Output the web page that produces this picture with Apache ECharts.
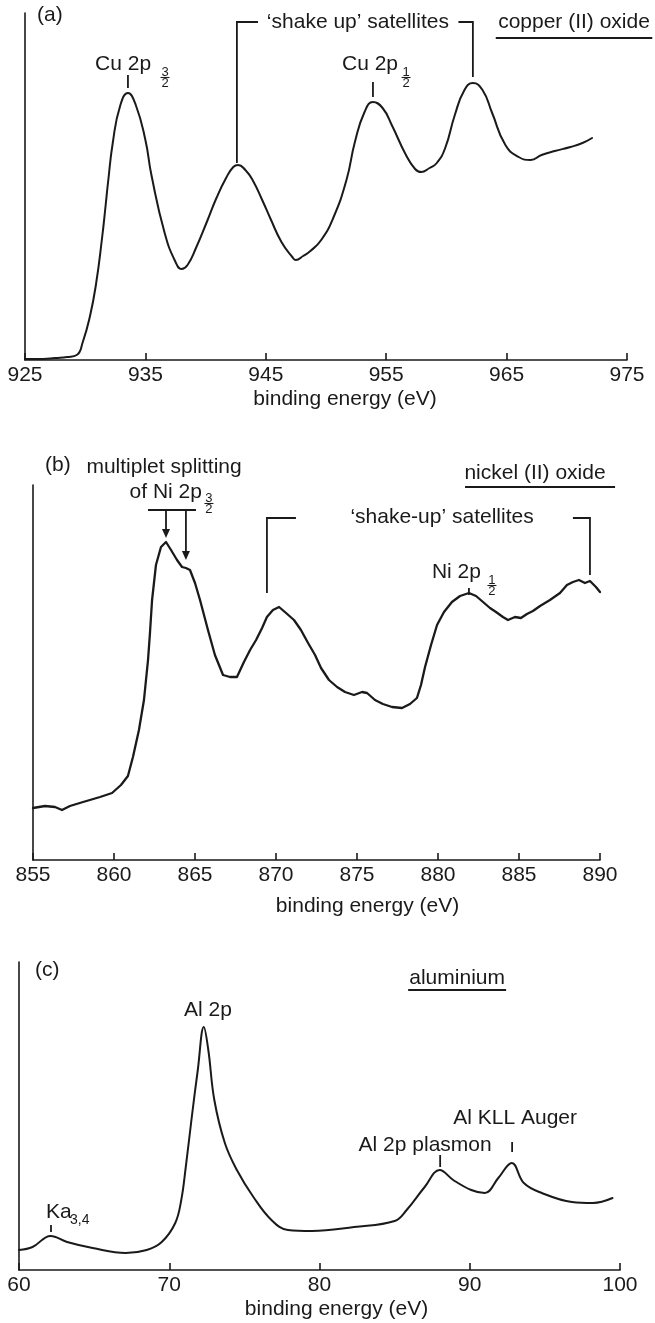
<!DOCTYPE html>
<html>
<head>
<meta charset="utf-8">
<script src="https://cdn.jsdelivr.net/npm/echarts@6/dist/echarts.min.js"></script>
<style>html,body{margin:0;padding:0;background:#fff}#c{width:655px;height:1323px}</style>
</head>
<body>
<div id="c"></div>
<script>
// ---------- data (intensity in arbitrary units) ----------
const energyA = [925.0,926.5,927.5,928.5,929.3,929.8,930.4,930.9,931.4,931.7,931.9,932.3,932.9,933.55,934.2,935.0,935.5,936.6,937.5,938.0,938.5,939.2,940.1,940.9,941.7,942.3,942.7,943.3,943.9,944.7,945.4,946.3,947.2,947.5,948.1,948.7,949.6,950.6,951.7,952.4,953.2,953.9,954.7,955.5,956.6,957.4,957.9,958.6,959.2,959.9,960.7,961.5,962.2,963.0,963.8,964.9,966.0,967.0,967.9,969.0,970.3,971.3,972.1];
const countsA = [1,1,2,3,5,18,44,76,122,155,178,218,254,267,255,220,185,127,98,91,95,112,138,162,182,193,195,190,180,160,141,118,103,100,104,109,120,142,180,218,248,258,252,234,206,191,188,192,197,212,245,270,277,270,247,215,203,200,205,209,213,217,222];

const energyB = [855.0,855.74,856.36,856.79,857.28,858.09,859.14,859.88,860.43,860.86,861.17,861.54,861.85,862.10,862.22,862.35,862.59,862.90,863.21,863.52,863.89,864.20,864.44,864.69,865.0,865.31,865.80,866.23,866.73,867.16,867.59,868.02,868.40,868.77,869.14,869.44,869.81,870.19,870.62,871.11,871.54,871.98,872.41,872.78,873.27,873.77,874.26,874.81,875.31,875.62,876.11,876.60,877.16,877.78,878.27,878.70,878.95,879.20,879.57,879.94,880.37,880.86,881.36,881.91,882.35,882.78,883.21,883.58,884.01,884.32,884.75,885.12,885.49,885.86,886.30,886.91,887.53,887.96,888.33,888.70,889.07,889.38,889.75,890.0];
const countsB = [52,54,53,50,54,58,63,67,75,84,103,130,160,200,227,260,295,313,318,310,300,293,292,290,277,260,230,205,185,183,183,198,210,220,232,243,250,253,247,240,230,217,205,192,180,173,168,165,168,167,160,156,153,152,156,162,175,193,215,235,248,258,264,267,264,258,252,248,243,240,243,242,246,249,254,260,267,275,278,280,277,279,273,268];

const energyC = [60.0,60.9,62.1,63.2,64.9,67.1,68.5,69.5,70.4,70.8,71.1,71.5,71.9,72.3,72.6,73.0,73.7,74.5,75.6,76.8,77.9,79.5,82.3,85.0,85.8,87.0,88.0,88.9,90.1,91.0,91.9,92.8,93.6,94.8,96.8,98.2,99.5];
const countsC = [20,23,34,28,22,17,20,28,47,70,103,153,200,243,220,170,127,100,73,50,40,39,43,49,60,83,100,90,80,77,92,107,87,77,68,67,72];

// axis ranges / ticks
const rangeA = [925, 975, 10];
const rangeB = [855, 890, 5];
const rangeC = [60, 100, 10];
const axisTitle = 'binding energy (eV)';

// ---------- annotations (in data coordinates: energy, intensity) ----------
const labelsA = [
  {at:[926.0,345], text:'(a)', align:'left'},
  {at:[970.6,338], text:'copper (II) oxide', align:'center'},
  {at:[952.65,338], text:'\u2018shake up\u2019 satellites', align:'center'},
  {at:[935.47,296], text:'Cu 2p', align:'right'},
  {at:[955.98,296], text:'Cu 2p', align:'right'}
];
const pathsA = [
  [[964.1,322],[977.1,322]],
  [[942.6,197],[942.6,338],[944.35,338]],
  [[961.0,338],[962.2,338],[962.2,283]],
  [[933.55,285],[933.55,272]],
  [[953.9,278],[953.9,263]]
];
const fracsA = [
  {at:[936.63,283], num:'3', den:'2'},
  {at:[956.65,283], num:'1', den:'2'}
];

const labelsB = [
  {at:[855.74,395], text:'(b)', align:'left'},
  {at:[863.09,393], text:'multiplet splitting', align:'center'},
  {at:[865.43,368], text:'of Ni 2p', align:'right'},
  {at:[885.99,387], text:'nickel (II) oxide', align:'center'},
  {at:[880.25,343], text:'\u2018shake-up\u2019 satellites', align:'center'},
  {at:[882.65,288], text:'Ni 2p', align:'right'}
];
const pathsB = [
  [[862.1,350],[865.06,350]],
  [[881.67,373],[890.93,373]],
  [[869.44,267],[869.44,342],[871.23,342]],
  [[888.33,342],[889.38,342],[889.38,285]],
  [[881.91,272],[881.91,265]]
];
const arrowsB = [
  [[863.21,350],[863.21,322]],
  [[864.44,350],[864.44,300]]
];
const fracsB = [
  {at:[865.86,357], num:'3', den:'2'},
  {at:[883.33,275], num:'1', den:'2'}
];

const labelsC = [
  {at:[61.07,300], text:'(c)', align:'left'},
  {at:[89.16,292], text:'aluminium', align:'center'},
  {at:[72.58,260], text:'Al 2p', align:'center'},
  {at:[93.02,152], text:'Al KLL Auger', align:'center'},
  {at:[87.03,125], text:'Al 2p plasmon', align:'center'},
  {at:[61.80,58], text:'Ka', align:'left'},
  {at:[63.40,50], text:'3,4', align:'left', small:true}
];
const pathsC = [
  [[85.9,280],[92.42,280]],
  [[92.82,128],[92.82,118]],
  [[88.03,115],[88.03,103]],
  [[62.13,45],[62.13,38]]
];

// ---------- styling ----------
const INK = '#1a1a1a';
const FONT = '"Liberation Sans", Arial, Helvetica, sans-serif';
const grids = [
  {left:25, top:13, width:602, height:347},
  {left:33, top:485, width:567, height:375},
  {left:19, top:962, width:601, height:308}
];
const yMax = [347, 375, 308];
const nameGap = [29, 36, 29];
const namePad = [38, 102, 34];
const ranges = [rangeA, rangeB, rangeC];

const xAxes = ranges.map((r, i) => ({
  gridIndex: i, type: 'value', min: r[0], max: r[1], interval: r[2],
  name: axisTitle, nameLocation: 'middle', nameGap: nameGap[i],
  nameTextStyle: {fontSize: 21, color: INK, fontFamily: FONT, padding: [0,0,0,namePad[i]]},
  axisLine: {show: true, onZero: false, lineStyle: {color: INK, width: 1.6}},
  axisTick: {show: true, inside: true, length: 7, lineStyle: {color: INK, width: 1.6}},
  axisLabel: {fontSize: 21, color: INK, fontFamily: FONT, margin: 5, showMinLabel: true, showMaxLabel: true},
  splitLine: {show: false}
}));
const yAxes = yMax.map((m, i) => ({
  gridIndex: i, type: 'value', min: 0, max: m,
  axisLine: {show: true, onZero: false, lineStyle: {color: INK, width: 1.6}},
  axisTick: {show: false}, axisLabel: {show: false}, splitLine: {show: false}
}));

function curve(i, xs, ys, smooth, width) {
  return {
    type: 'line', xAxisIndex: i, yAxisIndex: i, showSymbol: false, symbol: 'none',
    smooth: smooth,
    lineStyle: {color: INK, width: width, join: 'round', cap: 'round'}, data: xs.map((x, k) => [x, ys[k]]), silent: true, animation: false
  };
}
function labelSeries(i, labels) {
  return {
    type: 'custom', xAxisIndex: i, yAxisIndex: i, clip: false, silent: true, animation: false,
    data: labels.map(l => l.at),
    renderItem: (p, api) => {
      const l = labels[p.dataIndex];
      const pt = api.coord(l.at);
      return {type: 'text', x: pt[0], y: pt[1], style: {
        text: l.text, fill: INK, fontSize: l.small ? 14 : 21, fontFamily: FONT,
        align: l.align, verticalAlign: 'middle'}};
    }
  };
}
function pathSeries(i, paths) {
  return {
    type: 'custom', xAxisIndex: i, yAxisIndex: i, clip: false, silent: true, animation: false,
    data: paths.map(p => p[0]),
    renderItem: (p, api) => ({type: 'polyline', shape: {points: paths[p.dataIndex].map(q => api.coord(q))},
      style: {stroke: INK, lineWidth: 1.8, fill: null}})
  };
}
function arrowSeries(i, arrows) {
  return {
    type: 'custom', xAxisIndex: i, yAxisIndex: i, clip: false, silent: true, animation: false,
    data: arrows.map(a => a[0]),
    renderItem: (p, api) => {
      const a = arrows[p.dataIndex];
      const s = api.coord(a[0]), e = api.coord(a[1]);
      return {type: 'group', children: [
        {type: 'line', shape: {x1: s[0], y1: s[1], x2: e[0], y2: e[1] - 6}, style: {stroke: INK, lineWidth: 1.8}},
        {type: 'polygon', shape: {points: [[e[0], e[1]], [e[0] - 4, e[1] - 9], [e[0] + 4, e[1] - 9]]}, style: {fill: INK}}
      ]};
    }
  };
}
function fracSeries(i, fracs) {
  return {
    type: 'custom', xAxisIndex: i, yAxisIndex: i, clip: false, silent: true, animation: false,
    data: fracs.map(f => f.at),
    renderItem: (p, api) => {
      const f = fracs[p.dataIndex];
      const c = api.coord(f.at);
      return {type: 'group', children: [
        {type: 'text', x: c[0], y: c[1] - 5, style: {text: f.num, fill: INK, fontSize: 13, fontFamily: FONT, align: 'center', verticalAlign: 'middle'}},
        {type: 'line', shape: {x1: c[0] - 4.5, y1: c[1] + 0.5, x2: c[0] + 4.5, y2: c[1] + 0.5}, style: {stroke: INK, lineWidth: 1.1}},
        {type: 'text', x: c[0], y: c[1] + 6.5, style: {text: f.den, fill: INK, fontSize: 13, fontFamily: FONT, align: 'center', verticalAlign: 'middle'}}
      ]};
    }
  };
}

const chart = echarts.init(document.getElementById('c'), null, {renderer: 'canvas'});
chart.setOption({
  backgroundColor: '#ffffff',
  animation: false,
  grid: grids,
  xAxis: xAxes,
  yAxis: yAxes,
  series: [
    curve(0, energyA, countsA, 0.5, 2),
    curve(1, energyB, countsB, false, 2.3),
    curve(2, energyC, countsC, 0.4, 2),
    labelSeries(0, labelsA), pathSeries(0, pathsA), fracSeries(0, fracsA),
    labelSeries(1, labelsB), pathSeries(1, pathsB), arrowSeries(1, arrowsB), fracSeries(1, fracsB),
    labelSeries(2, labelsC), pathSeries(2, pathsC)
  ]
});
</script>
</body>
</html>
